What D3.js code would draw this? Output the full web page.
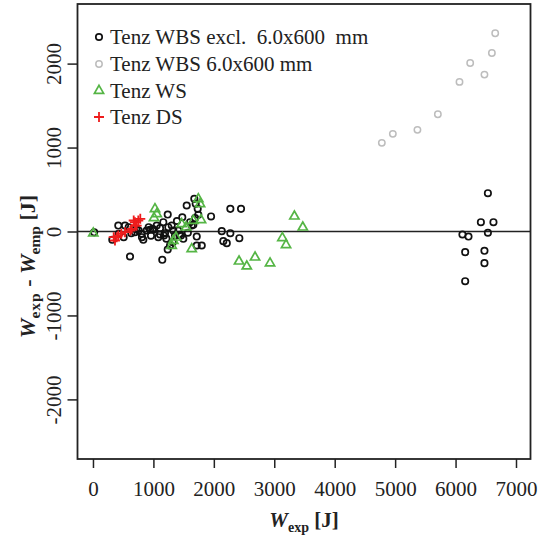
<!DOCTYPE html>
<html lang="en">
<head>
    <meta charset="UTF-8">
    <title>Wexp - Wemp</title>
    <script src="https://d3js.org/d3.v7.min.js"></script>
    <style>
        body {
            margin: 0;
            background: #fff;
        }
        svg text {
            font-family: 'Liberation Serif', 'Times New Roman', serif;
            fill: #222;
        }
    </style>
</head>
<body>
    <svg id="chart" width="544" height="536"></svg>

    <script>
        // Tenz WBS excl. 6.0x600 mm (black circles)
        const wbsX = [20, 419, 530, 320, 613, 695, 806, 833, 889, 944, 1055, 1164, 1237, 1147, 1109, 1192,
            1247, 1303, 1329, 1358, 1412, 1457, 1478, 1237, 1275, 1551, 1606, 1634, 1677, 1717, 1733, 1717,
            1800, 1954, 2131, 2273, 2450, 2273, 2157, 2214, 2422, 987, 1081, 1175, 1320, 1429, 1495, 1661,
            1743, 508, 634, 757, 811, 922, 1005, 591, 425, 1110, 1215, 1390, 1570, 1690, 960, 720, 1700,
            6535, 6419, 6627, 6535, 6114, 6214, 6159, 6478, 6478, 6159];
        const wbsY = [-10, 71, 71, -99, -298, -8, -27, -99, 12, 20, 71, 111, 202, -337, -36, -20,
            51, 71, 12, -48, 12, -48, 170, -214, -167, 310, 111, 71, 389, -60, 270, -167,
            -167, 179, 4, 270, 270, -20, -115, -139, -80, 32, -68, -48, -127, -39, -87, 80,
            199, -68, -20, 12, -68, 51, 20, 51, -27, 40, -85, 125, -15, 160, -50, 30, 330,
            456, 111, 111, -15, -36, -60, -246, -230, -377, -592];

        // Tenz WBS 6.0x600 mm (grey circles)
        const wbs6X = [4780, 4962, 5369, 5707, 6065, 6242, 6478, 6601, 6656];
        const wbs6Y = [1056, 1163, 1211, 1396, 1782, 2008, 1869, 2127, 2361];

        // Tenz WS (green triangles)
        const wsX = [5, 1026, 1055, 1010, 1743, 1772, 1788, 1468, 1329, 1303, 1634, 1540, 1661, 1374,
            3333, 3472, 3134, 3195, 2417, 2545, 2682, 2930];
        const wsY = [-20, 270, 211, 163, 389, 330, 139, 92, -107, -167, -206, 51, 131, -68,
            182, 51, -75, -158, -354, -413, -306, -377];

        // Tenz DS (red crosses)
        const dsX = [364, 392, 419, 530, 641, 695, 750, 723, 343, 469, 674, 783, 700, 618];
        const dsY = [-107, -68, -48, -8, 32, 111, 131, 71, -68, -27, 131, 151, 71, 12];

        const xTicks = [0, 1000, 2000, 3000, 4000, 5000, 6000, 7000];
        const yTicks = [-2000, -1000, 0, 1000, 2000];

        const legendLabels = ["Tenz WBS excl.  6.0x600  mm", "Tenz WBS 6.0x600 mm", "Tenz WS", "Tenz DS"];

        const box = { left: 77.5, right: 530.5, top: 4, bottom: 459 };
        const svg = d3.select("#chart");
        const serif = "'Liberation Serif', 'Times New Roman', serif";

        const x = d3.scaleLinear().domain([-256, 7240]).range([box.left, box.right]);
        const y = d3.scaleLinear().domain([-2710, 2710]).range([box.bottom, box.top]);

        const zip = (a, b) => a.map((v, i) => [v, b[i]]);

        // zero line
        svg.append("line")
            .attr("x1", box.left).attr("x2", box.right)
            .attr("y1", y(0)).attr("y2", y(0))
            .attr("stroke", "#222")
            .attr("stroke-width", 1.6);

        // axes
        const xAxis = svg.append("g")
            .attr("transform", `translate(0,${box.bottom})`)
            .call(d3.axisBottom(x).tickValues(xTicks).tickSize(9).tickPadding(13).tickFormat(d3.format("d")));
        xAxis.select(".domain").remove();
        xAxis.selectAll("line").attr("stroke", "#222").attr("stroke-width", 1.5);
        xAxis.selectAll("text").attr("font-size", 21).attr("fill", "#222")
            .style("font-family", serif);

        const yAxis = svg.append("g")
            .attr("transform", `translate(${box.left},0)`)
            .call(d3.axisLeft(y).tickValues(yTicks).tickSize(10).tickFormat(d3.format("d")));
        yAxis.select(".domain").remove();
        yAxis.selectAll("line").attr("stroke", "#222").attr("stroke-width", 1.5);
        yAxis.selectAll("text").remove();
        yAxis.selectAll(".tick").append("text")
            .attr("transform", "translate(-24,0) rotate(-90)")
            .attr("text-anchor", "middle")
            .attr("dy", "0.35em")
            .attr("font-size", 21)
            .style("font-family", serif)
            .attr("fill", "#222")
            .text(d => d);

        // points
        svg.append("g").selectAll("circle")
            .data(zip(wbs6X, wbs6Y))
            .join("circle")
            .attr("cx", d => x(d[0]))
            .attr("cy", d => y(d[1]))
            .attr("r", 3.2)
            .attr("fill", "none")
            .attr("stroke", "#bdbdbd")
            .attr("stroke-width", 1.5);

        svg.append("g").selectAll("circle")
            .data(zip(wbsX, wbsY))
            .join("circle")
            .attr("cx", d => x(d[0]))
            .attr("cy", d => y(d[1]))
            .attr("r", 3.2)
            .attr("fill", "none")
            .attr("stroke", "#111")
            .attr("stroke-width", 1.7);

        const tri = "M0,-5.2L4.6,2.8L-4.6,2.8Z";
        svg.append("g").selectAll("path")
            .data(zip(wsX, wsY))
            .join("path")
            .attr("transform", d => `translate(${x(d[0])},${y(d[1])})`)
            .attr("d", tri)
            .attr("fill", "none")
            .attr("stroke", "#55b545")
            .attr("stroke-width", 1.7);

        const plus = "M-5,0H5M0,-5V5";
        svg.append("g").selectAll("path")
            .data(zip(dsX, dsY))
            .join("path")
            .attr("transform", d => `translate(${x(d[0])},${y(d[1])})`)
            .attr("d", plus)
            .attr("fill", "none")
            .attr("stroke", "#ee1c1c")
            .attr("stroke-width", 1.8);

        // box
        svg.append("rect")
            .attr("x", box.left).attr("y", box.top)
            .attr("width", box.right - box.left).attr("height", box.bottom - box.top)
            .attr("fill", "none")
            .attr("stroke", "#222")
            .attr("stroke-width", 1.8);

        // legend
        const legendY = [37, 64, 90.5, 117];
        const lg = svg.append("g");
        lg.append("circle").attr("cx", 99).attr("cy", legendY[0]).attr("r", 3.2)
            .attr("fill", "none").attr("stroke", "#111").attr("stroke-width", 1.7);
        lg.append("circle").attr("cx", 99).attr("cy", legendY[1]).attr("r", 3.2)
            .attr("fill", "none").attr("stroke", "#bdbdbd").attr("stroke-width", 1.5);
        lg.append("path").attr("transform", `translate(99,${legendY[2]})`).attr("d", tri)
            .attr("fill", "none").attr("stroke", "#55b545").attr("stroke-width", 1.7);
        lg.append("path").attr("transform", `translate(99,${legendY[3]})`).attr("d", plus)
            .attr("fill", "none").attr("stroke", "#ee1c1c").attr("stroke-width", 1.8);
        lg.selectAll("text")
            .data(legendLabels)
            .join("text")
            .attr("x", 110)
            .attr("y", (d, i) => legendY[i])
            .attr("dy", "0.35em")
            .attr("font-size", 21)
            .style("font-family", serif)
            .style("white-space", "pre")
            .text(d => d);

        // axis titles
        const xt = svg.append("text")
            .attr("x", (box.left + box.right) / 2)
            .attr("y", 527)
            .attr("text-anchor", "middle")
            .attr("font-size", 21)
            .attr("font-weight", "bold")
            .style("font-family", serif);
        xt.append("tspan").attr("font-style", "italic").text("W");
        xt.append("tspan").attr("font-size", 14).attr("dy", 5).text("exp");
        xt.append("tspan").attr("dy", -5).text(" [J]");

        const yt = svg.append("text")
            .attr("transform", `translate(35,${(box.top + box.bottom) / 2 + 35}) rotate(-90)`)
            .attr("text-anchor", "middle")
            .attr("font-size", 22)
            .attr("font-weight", "bold")
            .style("font-family", serif);
        yt.append("tspan").attr("font-style", "italic").text("W");
        yt.append("tspan").attr("font-size", 15.5).attr("dy", 5).attr("letter-spacing", 1).text("exp");
        yt.append("tspan").attr("dy", -5).text(" - ").style("white-space", "pre");
        yt.append("tspan").attr("font-style", "italic").text("W");
        yt.append("tspan").attr("font-size", 15.5).attr("dy", 5).text("emp");
        yt.append("tspan").attr("dy", -5).text(" [J]");
    </script>
</body>
</html>
